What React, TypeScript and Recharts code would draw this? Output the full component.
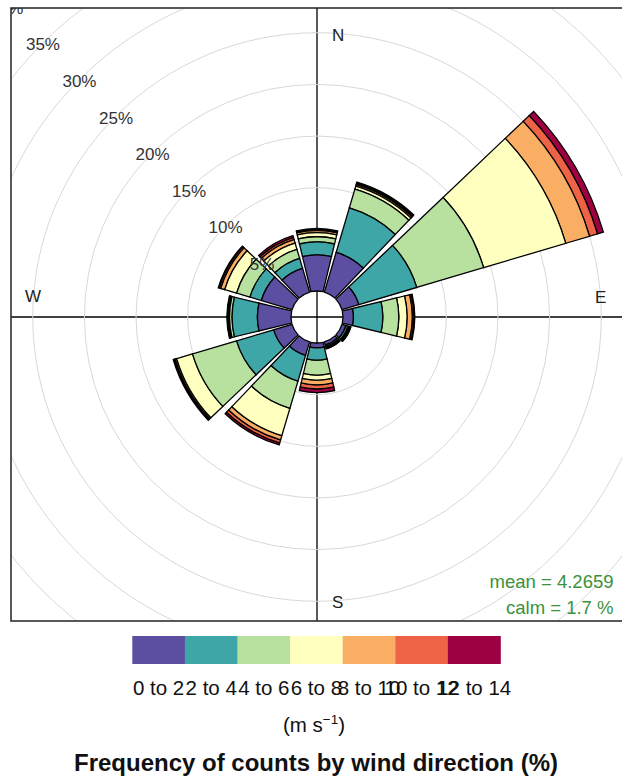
import React from 'react';
import { RadarChart, Radar, PolarGrid, PolarAngleAxis, PolarRadiusAxis, Sector } from 'recharts';

// Wind direction bins (degrees, clockwise from north), 30° wide
const directions = [0, 30, 60, 90, 120, 150, 180, 210, 240, 270, 300, 330];

// Frequency (%) of each wind-speed class per direction bin
const speed0to2 = [3.5, 4.0, 1.7, 1.0, 0.4, 0.3, 0.45, 1.35, 1.85, 3.25, 3.1, 2.4];
const speed2to4 = [1.25, 4.5, 5.85, 2.85, 0.2, 0.15, 1.2, 2.6, 3.75, 2.45, 1.15, 1.0];
const speed4to6 = [0.5, 1.9, 6.75, 1.55, 0.12, 0.1, 1.45, 2.75, 4.45, 0.25, 1.35, 0.9];
const speed6to8 = [0.4, 0.3, 8.3, 0.8, 0.08, 0.07, 0.5, 2.75, 1.6, 0.12, 1.2, 0.65];
const speed8to10 = [0.2, 0.15, 2.4, 0.5, 0.05, 0.04, 0.45, 0.45, 0.15, 0.06, 0.4, 0.35];
const speed10to12 = [0.1, 0.12, 0.8, 0.15, 0.03, 0.02, 0.4, 0.3, 0.1, 0.04, 0.15, 0.2];
const speed12to14 = [0.1, 0.13, 0.6, 0.1, 0.02, 0.02, 0.35, 0.2, 0.1, 0.03, 0.1, 0.2];

const speedLabels = ['0 to 2', '2 to 4', '4 to 6', '6 to 8', '8 to 10', '10 to 12', '12 to 14'];
const speedColours = ['#5C4FA1', '#3FA6A7', '#B8E1A0', '#FFFFBF', '#FAAE64', '#EE6345', '#9E0142'];

// Radial grid / label positions (%)
const radiusTicks = [5, 10, 15, 20, 25, 30, 35, 40];

const meanSpeed = 4.2659;
const calmPct = 1.7;

const speedSeries = [speed0to2, speed2to4, speed4to6, speed6to8, speed8to10, speed10to12, speed12to14];

// Stacked table: for each band k keep the cumulative base and top
const rows = directions.map((dir, i) => {
  const row: Record<string, number> = { dir };
  let acc = 0;
  speedSeries.forEach((s, k) => {
    row[`lo${k}`] = acc;
    acc += s[i];
    row[`hi${k}`] = acc;
  });
  return row;
});

// Layout
const PANEL_X = 11;
const PANEL_Y = 8;
const PANEL_W = 611;
const PANEL_H = 613;
const CX = 306; // rose centre inside the panel
const CY = 309;
const HOLE = 26; // calm hole radius
const PX_PER_PCT = 10.33;
const HALF_PETAL = 13.5; // petal covers 0.9 of the 30° bin

const FONT = '"Liberation Sans", Arial, Helvetica, sans-serif';

function petalShape(fill: string) {
  return (props: any) => {
    const pts: any[] = props.points || [];
    const base: any[] = props.baseLinePoints || [];
    return (
      <g>
        {pts.map((p, i) => {
          const inner = base[i] && typeof base[i].radius === 'number' ? base[i].radius : HOLE;
          const outer = p.radius;
          if (!(outer > inner + 0.01)) return null;
          return (
            <Sector
              key={i}
              cx={p.cx ?? CX}
              cy={p.cy ?? CY}
              innerRadius={inner}
              outerRadius={outer}
              startAngle={p.angle - HALF_PETAL}
              endAngle={p.angle + HALF_PETAL}
              fill={fill}
              stroke="#000"
              strokeWidth={1.3}
            />
          );
        })}
      </g>
    );
  };
}

const radiusTick = (props: any) => {
  const { x, y, payload } = props;
  return (
    <text
      x={x}
      y={y + 2}
      textAnchor="middle"
      dominantBaseline="central"
      fontFamily={FONT}
      fontSize={17}
      fill="#333"
    >
      {`${payload.value}%`}
    </text>
  );
};

export default function App() {
  const boxW = 52.6;
  const boxX0 = 132.3;
  return (
    <div
      style={{
        position: 'absolute',
        left: 0,
        top: 0,
        width: 622,
        height: 782,
        background: '#fff',
        overflow: 'hidden',
        fontFamily: FONT,
      }}
    >
      {/* compass axes, beneath the petals */}
      <svg width={622} height={782} style={{ position: 'absolute', left: 0, top: 0 }}>
        <line x1={PANEL_X + CX} y1={PANEL_Y} x2={PANEL_X + CX} y2={PANEL_Y + PANEL_H} stroke="#000" strokeWidth={1.3} />
        <line x1={PANEL_X} y1={PANEL_Y + CY} x2={PANEL_X + PANEL_W} y2={PANEL_Y + CY} stroke="#000" strokeWidth={1.3} />
      </svg>

      <div
        style={{
          position: 'absolute',
          left: PANEL_X,
          top: PANEL_Y,
          width: PANEL_W,
          height: PANEL_H,
          overflow: 'hidden',
        }}
      >
        <RadarChart
          width={PANEL_W}
          height={PANEL_H}
          data={rows}
          cx={CX}
          cy={CY}
          innerRadius={HOLE}
          outerRadius={HOLE + 40 * PX_PER_PCT}
          margin={{ top: 0, right: 0, bottom: 0, left: 0 }}
        >
          <PolarGrid gridType="circle" radialLines={false} stroke="#d8d8d8" strokeWidth={1} />
          <PolarAngleAxis dataKey="dir" tick={false} axisLine={false} tickLine={false} />
          {speedSeries
            .map((_, k) => k)
            .reverse()
            .map((k) => (
              <Radar
                key={k}
                name={speedLabels[k]}
                dataKey={(d: any) => [d[`lo${k}`], d[`hi${k}`]]}
                fill={speedColours[k]}
                stroke="#000"
                dot={false}
                isAnimationActive={false}
                shape={petalShape(speedColours[k])}
              />
            ))}
          <PolarRadiusAxis
            type="number"
            angle={135}
            domain={[0, 40]}
            ticks={radiusTicks}
            axisLine={false}
            tickLine={false}
            tick={radiusTick}
          />
        </RadarChart>
      </div>

      <svg
        width={622}
        height={782}
        style={{ position: 'absolute', left: 0, top: 0, pointerEvents: 'none' }}
      >
        {/* panel frame */}
        <rect x={PANEL_X} y={PANEL_Y} width={PANEL_W + 4} height={PANEL_H} fill="none" stroke="#222" strokeWidth={1.5} />

        {/* compass points */}
        <g fontFamily={FONT} fontSize={17} fill="#222">
          <text x={332} y={41}>N</text>
          <text x={332} y={608}>S</text>
          <text x={595} y={303}>E</text>
          <text x={25} y={302}>W</text>
        </g>

        {/* summary */}
        <g fontFamily={FONT} fontSize={18.5} fill="#3C913C" textAnchor="end">
          <text x={613.5} y={587.5} style={{ whiteSpace: 'pre' }}>{`mean = ${meanSpeed}`}</text>
          <text x={613.5} y={614} style={{ whiteSpace: 'pre' }}>{`calm = ${calmPct} %`}</text>
        </g>

        {/* colour key */}
        {speedColours.map((c, k) => (
          <rect key={c} x={boxX0 + k * boxW} y={636} width={boxW + 0.3} height={28} fill={c} />
        ))}
        <g fontFamily={FONT} fontSize={20.5} fill="#111" textAnchor="middle">
          {speedLabels.map((t, k) => (
            <text key={t} x={boxX0 + (k + 0.5) * boxW} y={695}>
              {t}
            </text>
          ))}
          <text x={314} y={732}>
            (m s
            <tspan dy={-8} fontSize={13.5}>−1</tspan>
            <tspan dy={8}>)</tspan>
          </text>
        </g>

        <text
          x={316}
          y={771}
          textAnchor="middle"
          fontFamily={FONT}
          fontSize={24}
          fontWeight="bold"
          fill="#111"
        >
          Frequency of counts by wind direction (%)
        </text>
      </svg>
    </div>
  );
}
